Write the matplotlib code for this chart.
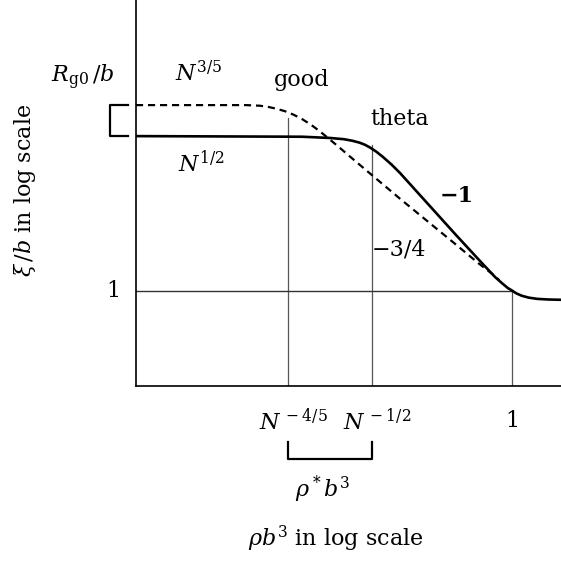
import matplotlib
matplotlib.use("Agg")
import matplotlib.pyplot as plt

# Exponents of N: x is log(rho b^3)/log N, y is log(xi/b)/log N
theta_x = [-1.343, -0.75, -0.65, -0.60, -0.57, -0.545, -0.525, -0.505, -0.485,
           -0.46, -0.43, -0.40, -0.30, -0.20, -0.11, -0.06, -0.035, -0.015,
           0.0, 0.015, 0.035, 0.06, 0.09, 0.13, 0.175]
theta_y = [0.5, 0.498, 0.494, 0.490, 0.485, 0.479, 0.472, 0.462, 0.450,
           0.432, 0.408, 0.381, 0.281, 0.181, 0.093, 0.045, 0.025, 0.010,
           0.002, -0.007, -0.015, -0.021, -0.025, -0.027, -0.028]

good_x = [-1.343, -0.95, -0.90, -0.87, -0.84, -0.81, -0.78, -0.75, -0.72,
          -0.69, -0.66, -0.62, -0.58, -0.50, -0.40, -0.30, -0.20, -0.12,
          -0.07, -0.045]
good_y = [0.6, 0.6, 0.598, 0.594, 0.588, 0.580, 0.569, 0.555, 0.538,
          0.518, 0.496, 0.466, 0.435, 0.374, 0.298, 0.224, 0.15, 0.09,
          0.055, 0.035]

# crossover concentrations N^-4/5, N^-1/2 and 1 (melt)
x_marks = [-0.8, -0.5, 0.0]
x_mark_labels = [r"$N^{\,-4/5}$", r"$N^{\,-1/2}$", "1"]
x_mark_tops = [0.56, 0.47, 0.0]

# coil sizes N^1/2 (theta) and N^3/5 (good)
rg_theta = 0.5
rg_good = 0.6

plt.rcParams["font.family"] = "DejaVu Serif"
plt.rcParams["mathtext.fontset"] = "dejavuserif"
plt.rcParams["font.size"] = 16

fig = plt.figure(figsize=(5.61, 5.62), dpi=100)
ax = fig.add_axes([136 / 561, 176 / 562, 1 - 136 / 561, 386 / 562])
ax.set_xlim(-1.343, 0.175)
ax.set_ylim(-0.306, 0.939)

# guide lines
for xm, top in zip(x_marks, x_mark_tops):
    ax.plot([xm, xm], [-0.306, top], color="#555", lw=0.9, zorder=1)
ax.plot([-1.343, 0.0], [0, 0], color="#333", lw=1.0, zorder=1)

ax.plot(theta_x, theta_y, color="black", lw=1.9, solid_capstyle="round",
        solid_joinstyle="round", zorder=3)
ax.plot(good_x, good_y, color="black", lw=1.6, dashes=(3.2, 2.2), zorder=3)

# brackets for R_g0 spread and overlap region
ax.plot([-1.371, -1.436, -1.436, -1.371], [rg_good, rg_good, rg_theta, rg_theta],
        color="black", lw=1.6, clip_on=False)
ax.plot([x_marks[0], x_marks[0], x_marks[1], x_marks[1]], [-0.487, -0.542, -0.542, -0.487],
        color="black", lw=1.6, clip_on=False)

ax.spines[["top", "right"]].set_visible(False)
ax.spines[["left", "bottom"]].set_linewidth(1.2)
ax.set_xticks([])
ax.set_yticks([])

ax.text(-1.532, 0.69, r"$R_{\rm g0}\,/b$", ha="center", va="center")
ax.text(-1.118, 0.70, r"$N^{3/5}$", ha="center", va="center")
ax.text(-1.111, 0.41, r"$N^{1/2}$", ha="center", va="center")
ax.text(-0.75, 0.68, "good", ha="center", va="center")
ax.text(-0.40, 0.555, "theta", ha="center", va="center")
ax.text(-0.196, 0.306, "\u22121", ha="center", va="center", fontweight="bold")
ax.text(-0.404, 0.135, "\u22123/4", ha="center", va="center")
ax.text(-1.425, 0.0, "1", ha="center", va="center")

for xm, lab in zip(x_marks, x_mark_labels):
    ax.text(xm + (0.0 if lab == "1" else 0.02), -0.42, lab, ha="center", va="center", clip_on=False)

ax.text(-0.675, -0.64, r"$\rho^*b^3$", ha="center", va="center")
ax.text(-0.629, -0.80, r"$\rho b^3$ in log scale", ha="center", va="center")
fig.text(25 / 561, 1 - 190 / 562, r"$\xi\,/b$ in log scale", rotation=90,
         ha="center", va="center")

fig.savefig("out.png", dpi=100)
plt.close(fig)
